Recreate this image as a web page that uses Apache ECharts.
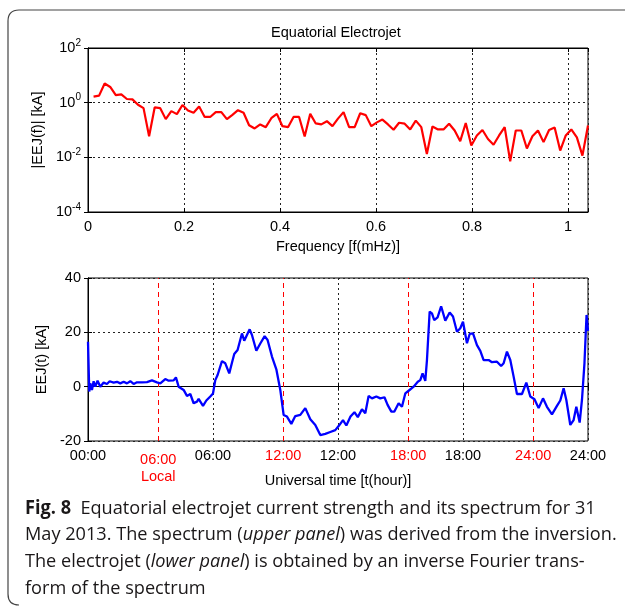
<!DOCTYPE html>
<html><head><meta charset="utf-8">
<script src="https://cdn.jsdelivr.net/npm/echarts@6/dist/echarts.min.js"></script>
<style>html,body{margin:0;padding:0;background:#fff}#c{width:625px;height:609px}</style>
</head><body><div id="c"></div>
<script>
// ---- Upper panel: spectrum ----
const freqMHz = [
0.0116,0.0231,0.0347,0.0463,0.0579,0.0694,0.0810,0.0926,0.1042,0.1157,
0.1273,0.1389,0.1505,0.1620,0.1736,0.1852,0.1968,0.2083,0.2199,0.2315,
0.2431,0.2546,0.2662,0.2778,0.2894,0.3009,0.3125,0.3241,0.3356,0.3472,
0.3588,0.3704,0.3819,0.3935,0.4051,0.4167,0.4282,0.4398,0.4514,0.4630,
0.4745,0.4861,0.4977,0.5093,0.5208,0.5324,0.5440,0.5556,0.5671,0.5787,
0.5903,0.6019,0.6134,0.6250,0.6366,0.6481,0.6597,0.6713,0.6829,0.6944,
0.7060,0.7176,0.7292,0.7407,0.7523,0.7639,0.7755,0.7870,0.7986,0.8102,
0.8218,0.8333,0.8449,0.8565,0.8681,0.8796,0.8912,0.9028,0.9144,0.9259,
0.9375,0.9491,0.9606,0.9722,0.9838,0.9954,1.0069,1.0185,1.0301,1.0417];
const spectrumKA = [
1.66,1.81,5.0,3.76,1.9,2.0,1.36,1.32,0.84,0.63,
0.059,0.67,0.63,0.25,0.49,0.38,0.82,0.52,0.43,0.73,
0.30,0.30,0.45,0.45,0.25,0.36,0.53,0.43,0.15,0.114,
0.16,0.127,0.27,0.39,0.138,0.127,0.30,0.30,0.058,0.39,
0.174,0.16,0.21,0.138,0.26,0.45,0.127,0.127,0.41,0.35,
0.138,0.19,0.24,0.16,0.102,0.184,0.17,0.105,0.22,0.127,
0.0133,0.134,0.105,0.105,0.17,0.096,0.039,0.18,0.027,0.063,
0.10,0.047,0.029,0.063,0.127,0.0071,0.096,0.096,0.021,0.059,
0.096,0.036,0.10,0.123,0.0177,0.063,0.105,0.054,0.0115,0.146];

// ---- Lower panel: time series ----
const timeUT = [
0.00,0.06,0.11,0.19,0.27,0.35,0.46,0.59,0.75,0.91,1.04,1.23,1.39,1.55,1.71,1.87,2.03,2.19,2.35,2.59,
2.83,3.07,3.31,3.47,3.71,3.87,4.11,4.22,4.35,4.43,4.59,4.75,4.91,5.07,5.23,5.31,5.39,5.52,5.68,5.87,
6.00,6.11,6.22,6.43,6.59,6.78,6.91,7.02,7.18,7.39,7.50,7.63,7.76,7.87,8.08,8.27,8.48,8.62,8.83,9.04,
9.23,9.39,9.55,9.76,9.95,10.19,10.43,10.67,10.91,11.15,11.39,11.63,11.87,12.03,12.24,12.40,12.60,12.79,12.95,13.15,
13.31,13.47,13.63,13.84,14.03,14.23,14.38,14.56,14.70,14.91,15.07,15.23,15.39,15.63,15.83,15.95,16.06,16.19,16.27,16.40,
16.51,16.62,16.78,16.95,17.15,17.36,17.52,17.71,17.87,18.00,18.19,18.32,18.48,18.67,18.83,18.99,19.23,19.39,19.63,19.83,
19.95,20.11,20.27,20.43,20.59,20.83,21.04,21.23,21.43,21.63,21.84,22.03,22.27,22.51,22.67,22.83,22.96,23.15,23.31,23.44,
23.60,23.71,23.83,23.93,24.00];
const eejKA = [
16.5,-1.8,1.2,-1.2,2.0,0.0,2.2,0.0,1.5,1.0,2.0,1.5,1.8,1.2,1.8,1.2,2.0,1.0,1.6,1.6,
1.7,2.3,1.6,1.2,2.8,2.2,2.3,3.4,0.0,-0.6,-1.2,-3.4,-2.7,-6.1,-5.5,-4.5,-5.1,-7.1,-5.1,-3.6,
-2.5,2.4,4.3,9.4,8.6,4.9,8.8,12.0,13.5,19.6,16.9,19.0,21.1,19.0,13.2,15.9,18.6,17.2,11.1,6.4,
-1.2,-10.4,-11.0,-13.7,-10.8,-10.4,-7.9,-12.0,-14.1,-17.8,-17.4,-16.7,-16.0,-14.5,-12.3,-14.3,-11.0,-9.4,-11.2,-8.3,
-9.8,-3.4,-4.3,-3.6,-4.3,-3.9,-6.7,-9.2,-9.2,-6.1,-7.4,-2.5,-1.5,0.0,1.8,2.4,4.9,2.1,9.8,27.6,
27.0,24.5,25.5,29.6,24.3,27.3,25.8,20.2,21.5,23.9,16.0,19.4,19.6,15.3,13.2,9.8,9.8,9.0,9.2,7.6,
8.6,12.9,9.8,3.7,-2.7,-2.7,1.5,-3.6,-4.6,-7.9,-4.3,-7.4,-10.2,-7.1,-5.1,-0.6,-4.9,-14.1,-12.3,-7.4,
-13.2,-4.9,8.6,26.4,20.5];

const localTimeUT = [3.37, 9.37, 15.37, 21.37];
const localLabels = ['06:00\nLocal', '12:00', '18:00', '24:00'];
const utTickLabels = ['00:00', '06:00', '12:00', '18:00', '24:00'];

const FONT = 'Liberation Sans';
const FS = 14.5;
const txt = {fontFamily: FONT, fontSize: FS, color: '#000'};
const dotted = {color: '#222', type: [2, 3], width: 1};

const chart = echarts.init(document.getElementById('c'), null, {renderer: 'canvas'});

function hiddenAxis(grid, pos, extra) {
  return Object.assign({
    gridIndex: grid, position: pos,
    axisLine: {show: true, lineStyle: {color: '#000'}},
    axisTick: {show: true, inside: true, length: 4, lineStyle: {color: '#000'}},
    axisLabel: {show: false}, splitLine: {show: false}
  }, extra);
}

const borderStyle = {fill: 'none', stroke: '#444', lineWidth: 1.2};

const option = {
  animation: false,
  backgroundColor: '#fff',
  title: {
    text: 'Equatorial Electrojet', left: 336, top: 25, textAlign: 'center', padding: 0,
    textStyle: {fontFamily: FONT, fontSize: FS, fontWeight: 'normal', color: '#000'}
  },
  grid: [
    {left: 88, top: 48, width: 500, height: 164, show: true, borderColor: '#000', borderWidth: 1},
    {left: 88, top: 278, width: 500, height: 163, show: true, borderColor: '#000', borderWidth: 1}
  ],
  xAxis: [
    {
      type: 'value', gridIndex: 0, min: 0, max: 1.0417, interval: 0.2,
      name: 'Frequency [f(mHz)]', nameLocation: 'middle', nameGap: 27, nameTextStyle: txt,
      axisLine: {show: true, lineStyle: {color: '#000'}},
      axisTick: {show: true, inside: true, length: 4, lineStyle: {color: '#000'}},
      axisLabel: Object.assign({margin: 7, formatter: v => {
        const r = Math.round(v * 5) / 5;
        if (Math.abs(v - r) > 1e-6) return '';
        return r === 0 ? '0' : (r === 1 ? '1' : String(r));
      }}, txt),
      splitLine: {show: true, lineStyle: dotted}
    },
    {
      type: 'value', gridIndex: 1, min: 0, max: 24, interval: 6,
      name: 'Universal time [t(hour)]', nameLocation: 'middle', nameGap: 32, nameTextStyle: txt,
      axisLine: {show: true, lineStyle: {color: '#000'}},
      axisTick: {show: true, inside: true, length: 4, lineStyle: {color: '#000'}},
      axisLabel: Object.assign({margin: 7, formatter: v => utTickLabels[Math.round(v / 6)] || ''}, txt),
      splitLine: {show: true, lineStyle: dotted}
    },
    hiddenAxis(0, 'top', {type: 'value', min: 0, max: 1.0417, interval: 0.2}),
    hiddenAxis(1, 'top', {type: 'value', min: 0, max: 24, interval: 6})
  ],
  yAxis: [
    {
      type: 'log', logBase: 10, gridIndex: 0, min: 1e-4, max: 100, interval: 2,
      name: '|EEJ(f)| [kA]', nameLocation: 'middle', nameGap: 39, nameTextStyle: txt,
      axisLine: {show: true, lineStyle: {color: '#000'}},
      axisTick: {show: true, inside: true, length: 4, lineStyle: {color: '#000'}},
      axisLabel: {
        margin: 7,
        formatter: v => '{b|10}{s|' + Math.round(Math.log10(v)) + '}',
        rich: {
          b: {fontFamily: FONT, fontSize: FS, color: '#000'},
          s: {fontFamily: FONT, fontSize: 10, color: '#000', padding: [0, 0, 10, 0]}
        }
      },
      splitLine: {show: true, lineStyle: dotted}
    },
    {
      type: 'value', gridIndex: 1, min: -20, max: 40, interval: 20,
      name: 'EEJ(t) [kA]', nameLocation: 'middle', nameGap: 35, nameTextStyle: txt,
      axisLine: {show: true, lineStyle: {color: '#000'}},
      axisTick: {show: true, inside: true, length: 4, lineStyle: {color: '#000'}},
      axisLabel: Object.assign({margin: 7}, txt),
      splitLine: {show: true, lineStyle: dotted}
    },
    hiddenAxis(0, 'right', {type: 'log', logBase: 10, min: 1e-4, max: 100, interval: 2}),
    hiddenAxis(1, 'right', {type: 'value', min: -20, max: 40, interval: 20})
  ],
  series: [
    {
      type: 'line', xAxisIndex: 0, yAxisIndex: 0, showSymbol: false, symbol: 'none',
      data: freqMHz.map((f, i) => [f, spectrumKA[i]]),
      lineStyle: {color: '#ff0000', width: 2.2}, z: 5
    },
    {
      type: 'line', xAxisIndex: 1, yAxisIndex: 1, showSymbol: false, symbol: 'none',
      data: timeUT.map((t, i) => [t, eejKA[i]]),
      lineStyle: {color: '#0000ff', width: 2.3}, z: 5,
      markLine: {
        silent: true, symbol: 'none', animation: false,
        lineStyle: {color: '#ff0000', type: [5, 4], width: 1},
        label: {show: true, position: 'start', distance: 7, color: '#ff0000',
                fontFamily: FONT, fontSize: FS, lineHeight: 16.5, formatter: p => p.name},
        data: localTimeUT.map((t, i) => ({
          xAxis: t, name: localLabels[i],
          label: i === 0 ? {padding: [4, 0, 0, 0]} : {}
        }))
      }
    }
  ],
  graphic: [
    {type: 'line', silent: true, shape: {x1: 19, y1: 10, x2: 625, y2: 10}, style: borderStyle},
    {type: 'bezierCurve', silent: true, shape: {x1: 8, y1: 21, cpx1: 8, cpy1: 10, x2: 19, y2: 10}, style: borderStyle},
    {type: 'line', silent: true, shape: {x1: 8, y1: 21, x2: 8, y2: 594}, style: borderStyle},
    {type: 'bezierCurve', silent: true, shape: {x1: 8, y1: 594, cpx1: 8, cpy1: 605, x2: 19, y2: 605}, style: borderStyle},
    {
      type: 'text', x: 25, y: 495, scaleX: 0.955, silent: true,
      style: {
        text: '{b|Fig. 8}  Equatorial electrojet current strength and its spectrum for 31\n' +
              'May 2013. The spectrum ({i|upper panel}) was derived from the inversion.\n' +
              'The electrojet ({i|lower panel}) is obtained by an inverse Fourier trans-\n' +
              'form of the spectrum',
        fontFamily: 'Open Sans', fontSize: 19, fill: '#1a1718', lineHeight: 26.7,
        verticalAlign: 'top',
        rich: {
          b: {fontFamily: 'Open Sans', fontSize: 19, fontWeight: 'bold', fill: '#1a1718', lineHeight: 26.7},
          i: {fontFamily: 'Open Sans', fontSize: 19, fontStyle: 'italic', fill: '#1a1718', lineHeight: 26.7}
        }
      }
    }
  ]
};
chart.setOption(option);
</script>
</body></html>
